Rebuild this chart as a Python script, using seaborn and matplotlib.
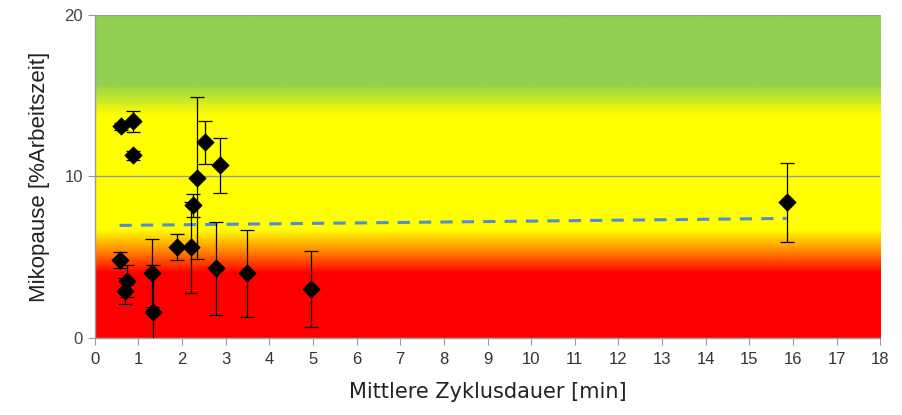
import numpy as np
import pandas as pd
import matplotlib
matplotlib.use("Agg")
import matplotlib.pyplot as plt
import seaborn as sns
from matplotlib.colors import LinearSegmentedColormap

# Data
zyklus = [0.60, 0.87, 0.87, 0.57, 0.73, 0.69, 1.31, 1.33, 1.88, 2.20,
          2.25, 2.34, 2.52, 2.87, 2.77, 3.48, 4.95, 15.85]
pause = [13.1, 13.4, 11.3, 4.8, 3.5, 2.9, 4.0, 1.6, 5.6, 5.6,
         8.2, 9.9, 12.1, 10.7, 4.3, 4.0, 3.0, 8.4]
fehler = [0.2, 0.65, 0.3, 0.5, 1.0, 0.8, 2.1, 2.9, 0.8, 2.8,
          0.7, 5.0, 1.35, 1.7, 2.9, 2.7, 2.35, 2.45]
x_ticks = list(range(0, 19))
y_ticks = [0, 10, 20]

df = pd.DataFrame({"x": zyklus, "y": pause, "err": fehler})

sns.set_style("white")
plt.rcParams["font.family"] = ["Liberation Sans", "DejaVu Sans"]

fig = plt.figure(figsize=(9.02, 4.15), dpi=100)
ax = fig.add_axes([0.105, 0.186, 0.871, 0.778])

# background gradient (red - orange - yellow - green)
stops = [(0.0, "#ff0000"), (4.0 / 20, "#ff0000"), (5.4 / 20, "#ff8c00"),
         (6.7 / 20, "#ffff00"), (13.8 / 20, "#ffff00"), (15.8 / 20, "#92d050"),
         (1.0, "#92d050")]
cmap = LinearSegmentedColormap.from_list("bg", stops)
grad = np.linspace(0, 1, 400).reshape(-1, 1)
ax.imshow(grad, extent=[0, 18, 0, 20], origin="lower", aspect="auto",
          cmap=cmap, zorder=0)

# gridlines
for yv in y_ticks:
    ax.axhline(yv, color="#9a9a9a", lw=1.0, zorder=1)

# error bars
ax.errorbar(df["x"], df["y"], yerr=df["err"], fmt="none", ecolor="black",
            elinewidth=0.9, capsize=5, capthick=0.9, zorder=3)

# points
sns.scatterplot(data=df, x="x", y="y", marker="D", s=75, color="black",
                edgecolor="black", ax=ax, zorder=4, legend=False)

# linear trend line
sns.regplot(data=df, x="x", y="y", scatter=False, ci=None, truncate=True, ax=ax,
            line_kws=dict(color="#4f8fcf", lw=2.2, ls=(0, (4, 3)), zorder=2))

ax.set_xlim(0, 18)
ax.set_ylim(0, 20)
ax.set_xticks(x_ticks)
ax.set_yticks(y_ticks)
ax.tick_params(axis="y", labelsize=12, colors="#9a9a9a", labelcolor="#444444",
               length=5, direction="out", left=True)
ax.tick_params(axis="x", labelsize=12, colors="#9a9a9a", labelcolor="#333333",
               length=5, direction="out", bottom=True, pad=5)

for side in ["top", "right"]:
    ax.spines[side].set_visible(False)
for side in ["left", "bottom"]:
    ax.spines[side].set_color("#9a9a9a")
    ax.spines[side].set_linewidth(1.0)

ax.set_xlabel("Mittlere Zyklusdauer [min]", fontsize=15, color="#222222",
              family=["DejaVu Sans"], labelpad=11)
ax.set_ylabel("Mikopause [%Arbeitszeit]", fontsize=16, color="#222222",
              labelpad=10)

fig.savefig("out.png", dpi=100)
